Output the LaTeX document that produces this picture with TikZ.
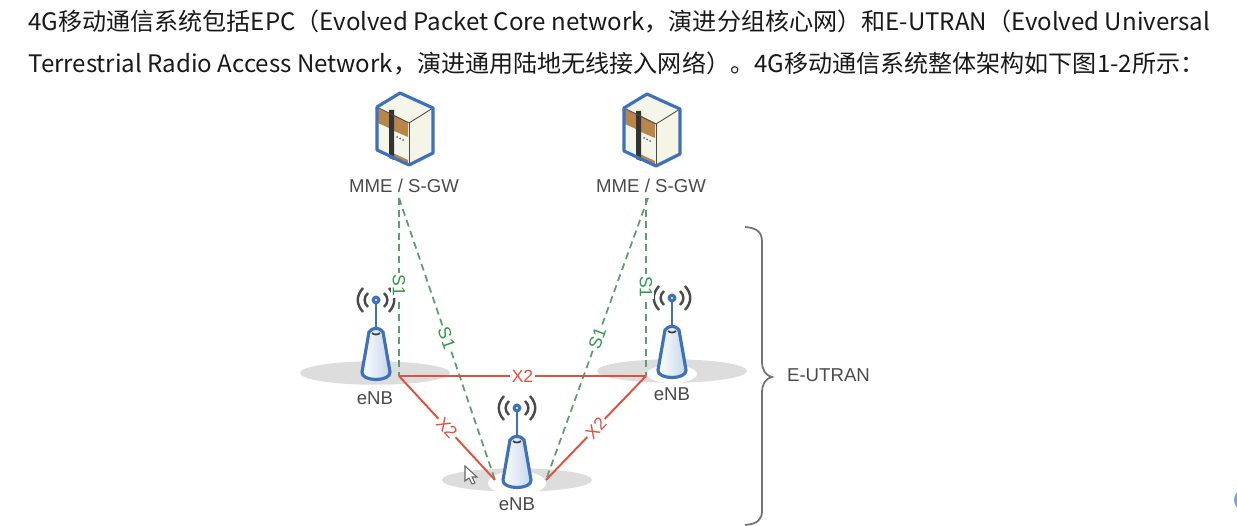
\documentclass[tikz,border=0pt]{standalone}
\usepackage{fontspec}
\setmainfont{Noto Sans CJK SC}
\newfontfamily\labelfont{Liberation Sans}
\usepackage{xcolor}
\usetikzlibrary{positioning,shapes,arrows.meta}
\definecolor{linkblue}{HTML}{3D72BA}
\definecolor{boxcream}{HTML}{EFF0DC}
\definecolor{boxbrown}{HTML}{B8854A}
\definecolor{padgray}{HTML}{DDDDDD}
\definecolor{s1green}{HTML}{5E9E6E}
\definecolor{s1text}{HTML}{2F9A4A}
\definecolor{x2red}{HTML}{E0503E}
\definecolor{textgray}{HTML}{4A4A4A}
\tikzset{
    headline/.style={anchor=west, inner sep=0pt, font=\fontsize{13.7pt}{16pt}\selectfont, text=black!90},
    device name/.style={font=\labelfont\fontsize{10.6pt}{13pt}\selectfont, text=textgray, inner sep=1pt},
    s1 link/.style={s1green, dash pattern=on 4pt off 2.6pt, line width=1pt},
    x2 link/.style={x2red, line width=1.1pt},
    s1 tag/.style={font=\labelfont\fontsize{10pt}{12pt}\selectfont, text=s1text, fill=white, inner sep=1pt},
    x2 tag/.style={font=\labelfont\fontsize{10pt}{12pt}\selectfont, text=x2red, fill=white, inner sep=1pt},
    pad/.style={ellipse, fill=padgray, minimum width=3cm, minimum height=0.47cm, inner sep=0pt},
    server/.pic={
        \fill[boxcream!60!white] (-32,-16) -- (-9,-30) -- (24,-15) -- (0,0) -- cycle;
        \fill[boxcream!70!white] (0,0) -- (24,-15) -- (24,30) -- (0,42) -- cycle;
        \fill[boxcream!60!white] (-32,-16) -- (0,0) -- (0,42) -- (-32,27) -- cycle;
        \fill[boxbrown] (-31,-15) -- (-20,-10) -- (-20,5) -- (-31,0) -- cycle;
        \fill[boxbrown] (-15,-8) -- (-1,-1) -- (-1,14) -- (-15,8) -- cycle;
        \fill[boxbrown] (-16,30) -- (-1,37) -- (-1,42) -- (-16,35) -- cycle;
        \fill[black!80] (-20,-13) -- (-15,-13) -- (-15,37) -- (-20,35) -- cycle;
        \foreach \dotx in {-12,-9,-6}
            \fill[black!60] (\dotx,\dotx/2+20) circle (1);
        \draw[black!70, line width=0.5pt] (-32,-16) -- (0,0) -- (24,-15);
        \draw[black!70, line width=0.5pt] (0,0) -- (0,42);
        \draw[linkblue, line width=1.8pt, line join=round] (-32,-16) -- (-9,-30) -- (24,-15) -- (24,30) -- (0,42) -- (-32,27) -- cycle;
    },
    antenna/.pic={
        \draw[linkblue, line width=1.5pt] (0,-80) -- (0,-48);
        \draw[linkblue, line width=1.8pt, left color=white, right color=linkblue!30] (-7,-48) .. controls (-3,-53) and (3,-53) .. (7,-48) -- (14,-8) .. controls (15,2) and (-15,2) .. (-14,-8) -- cycle;
        \draw[black!75, line width=1pt] (-4,-47) .. controls (-2,-45) and (2,-45) .. (4,-47);
        \fill[linkblue] (0,-80) circle (4.5);
        \fill[white] (0,-80) circle (1.2);
        \draw[textgray, line width=1.4pt] (-8,-87) .. controls (-12.5,-83) and (-12.5,-77) .. (-8,-73);
        \draw[textgray, line width=1.4pt] (8,-87) .. controls (12.5,-83) and (12.5,-77) .. (8,-73);
        \draw[textgray, line width=1.4pt] (-13,-92) .. controls (-20,-84) and (-20,-76) .. (-13,-68);
        \draw[textgray, line width=1.4pt] (13,-92) .. controls (20,-84) and (20,-76) .. (13,-68);
    }
}

\begin{document}
\begin{tikzpicture}[x=0.02cm, y=-0.02cm]
    \useasboundingbox (0,0) rectangle (1237,526);

    \node[headline] (line1) at (28,21) {4G移动通信系统包括EPC（Evolved Packet Core network，演进分组核心网）和E-UTRAN（Evolved Universal};
    \node[headline] (line2) at (28,63) {Terrestrial Radio Access Network，演进通用陆地无线接入网络）。4G移动通信系统整体架构如下图1-2所示：};

    \node[pad] (padl) at (375,373) {};
    \node[pad] (padr) at (672,371) {};
    \node[pad] (padb) at (517,480) {};
    \fill[white] (672,374) ellipse (25 and 9);
    \fill[white] (517,483) ellipse (29 and 12);

    \pic at (409,123) {server};
    \pic at (656,124) {server};
    \node[device name] (mme1) at (404,186) {MME / S-GW};
    \node[device name] (mme2) at (651,186) {MME / S-GW};

    \pic at (376,380) {antenna};
    \pic at (672,378) {antenna};
    \pic at (517,488) {antenna};
    \node[device name] (enb1) at (375,398) {eNB};
    \node[device name] (enb2) at (672,394) {eNB};
    \node[device name] (enb3) at (517,504) {eNB};

    \coordinate (m1) at (399,198);
    \coordinate (m2) at (648,198);
    \coordinate (m2v) at (646,198);
    \coordinate (e1) at (399,376);
    \coordinate (e2) at (646,376);
    \coordinate (e3l) at (495,480);
    \coordinate (e3r) at (546,480);

    \draw[s1 link] (m1) -- (e1) node[pos=0.49, s1 tag, rotate=-90] (s1a) {S1};
    \draw[s1 link] (m1) -- (e3l) node[pos=0.497, s1 tag, rotate=-71] (s1b) {S1};
    \draw[s1 link] (m2) -- (e3r) node[pos=0.497, s1 tag, rotate=70] (s1c) {S1};
    \draw[s1 link] (m2v) -- (e2) node[pos=0.5, s1 tag, rotate=-90] (s1d) {S1};

    \draw[x2 link] (e1) -- (e2) node[midway, x2 tag] (x2a) {X2};
    \draw[x2 link] (e1) -- (e3l) node[midway, x2 tag, rotate=-47] (x2b) {X2};
    \draw[x2 link] (e2) -- (e3r) node[midway, x2 tag, rotate=47] (x2c) {X2};

    % brace round the access network
    \draw[black!55, line width=1pt] (745,227) .. controls (757,228) and (762,232) .. (762,242) -- (762,361) .. controls (762,370) and (765,375) .. (772,377) .. controls (765,379) and (762,384) .. (762,393) -- (762,511) .. controls (762,520) and (757,524) .. (745,525);
    \node[device name, anchor=west] (eutran) at (785,375) {E-UTRAN};

    % mouse pointer and screen marker
    \draw[black!60, fill=white, line width=0.6pt] (465,466) -- (465,481) -- (469,478) -- (472,484) -- (475,483) -- (472,477) -- (477,477) -- cycle;
    \fill[cyan!60!blue!60] (1245,500) circle (11);
\end{tikzpicture}
\end{document}
